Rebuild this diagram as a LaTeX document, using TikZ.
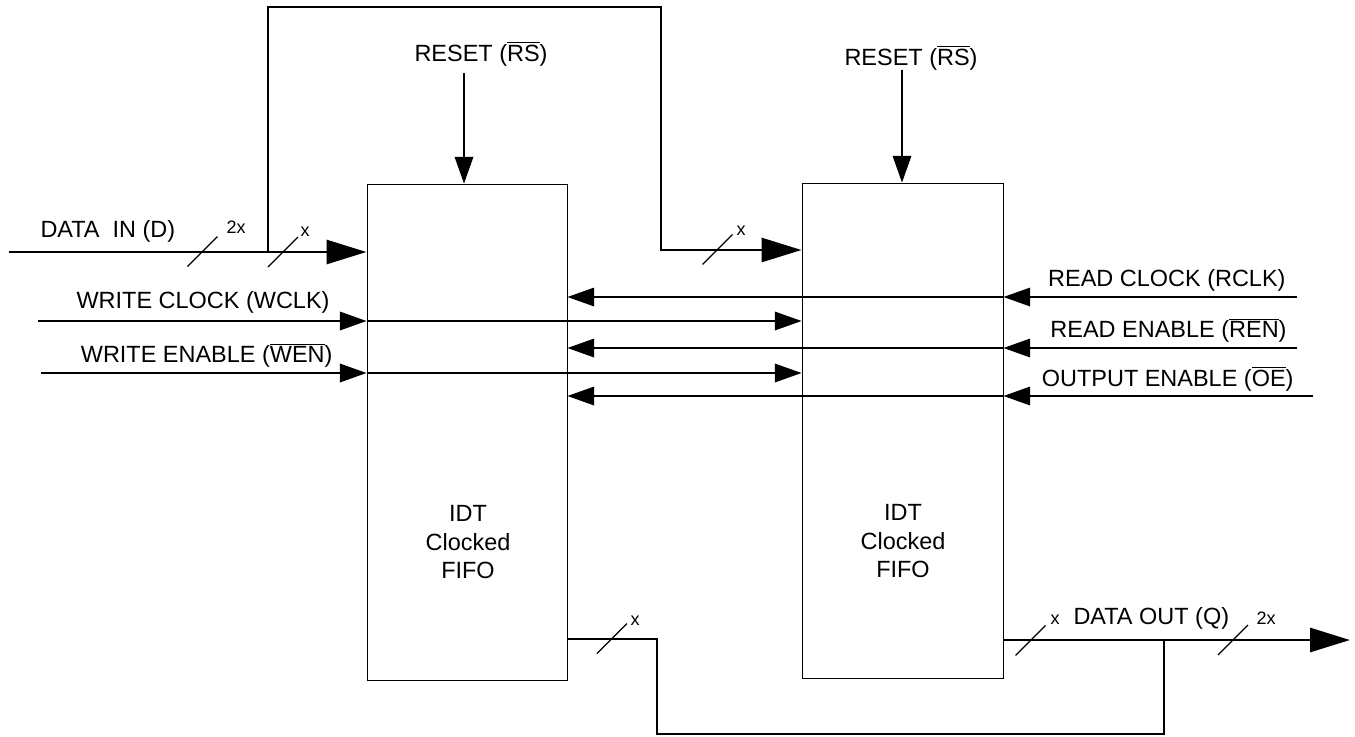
\documentclass[tikz,border=0pt]{standalone}
\usepackage{fontspec}
\setmainfont{Liberation Sans}
\usetikzlibrary{arrows.meta}
\newcommand{\ovl}[1]{$\overline{\mbox{#1}}$}

\tikzset{every picture/.style={line width=0.75pt}}
\tikzset{
  fifo/.style={draw, line width=0.75pt, inner sep=0pt},
  sig/.style={line width=0.9pt, -{Triangle[length=20pt,width=14pt]}},
  bus/.style={line width=2.2pt},
  busarrow/.style={bus, -{Triangle[length=30pt,width=18pt]}},
  slash/.style={line width=0.9pt},
  lbl/.style={inner sep=0pt, font=\fontsize{17.6}{21.5}\selectfont},
  buslbl/.style={inner sep=0pt, font=\fontsize{13.5}{16}\selectfont},
  ctr/.style={lbl, align=center},
}

\begin{document}
\begin{tikzpicture}[x=0.75pt,y=0.75pt,yscale=-1,xscale=1]
\useasboundingbox (0,0) rectangle (1355,736);

%Shape: FIFO boxes
\node[fifo, minimum width=150pt, minimum height=372pt] (fifoL) at (467,432) {};
\node[fifo, minimum width=150.75pt, minimum height=371.25pt] (fifoR) at (902.5,430.5) {};
% Text Node
\node[ctr, anchor=north] (idtL) at (468,505) {IDT\\Clocked\\FIFO};
% Text Node
\node[ctr, anchor=north] (idtR) at (903,504) {IDT\\Clocked\\FIFO};

%Free ends
\coordinate (dinIn) at (9,252);
\coordinate (dinSplit) at (268,252);
\coordinate (loopTop) at (661,7);
\coordinate (dinR) at (661,250);
\coordinate (wclkIn) at (38,321);
\coordinate (wenIn) at (41,373);
\coordinate (rclkIn) at (1297,297);
\coordinate (renIn) at (1297,348);
\coordinate (oeIn) at (1313,396);
\coordinate (rsL) at (464,73);
\coordinate (rsR) at (902,70);
\coordinate (qL) at (657,639);
\coordinate (qLoop) at (1164,734);
\coordinate (qOut) at (1350,640);

%Straight Lines: data in
\draw[busarrow] (dinIn) -- (dinIn -| fifoL.west);
\draw[busarrow] (dinSplit) |- (loopTop) -- (dinR) -- (dinR -| fifoR.west);

%Straight Lines: write side
\foreach \s in {wclkIn, wenIn} {
  \draw[sig] (\s) -- (\s -| fifoL.west);
  \draw[sig] (\s -| fifoL.west) -- (\s -| fifoR.west);
}
%Straight Lines: read side
\foreach \s in {rclkIn, renIn, oeIn} {
  \draw[sig] (\s) -- (\s -| fifoR.east);
  \draw[sig] (\s -| fifoR.east) -- (\s -| fifoL.east);
}

%Straight Lines: reset
\draw[sig] (rsL) -- (rsL |- fifoL.north);
\draw[sig] (rsR) -- (rsR |- fifoR.north);

%Straight Lines: data out
\draw[bus] (fifoL.east |- qL) -- (qL) |- (qLoop) -- (qLoop |- qOut);
\draw[busarrow] (fifoR.east |- qOut) -- (qOut);

%Bus width marks
\foreach \x/\y in {202.5/251.5, 283/252, 717.5/249.5, 612/638.5, 1030.5/640.5, 1233/640}
  \draw[slash] (\x,\y) ++(-15,15) -- ++(30,-30);

% Text Node
\node[lbl, anchor=base west] (dinLbl) at (40,237) {DATA\ \ IN (D)};
% Text Node
\node[buslbl, anchor=base west] (din2x) at (226,233) {2x};
% Text Node
\node[buslbl, anchor=base west] (dinx) at (300,236) {x};
% Text Node
\node[buslbl, anchor=base west] (loopx) at (736,235) {x};
% Text Node
\node[lbl, anchor=base east] (wclkLbl) at (330,308) {WRITE CLOCK (WCLK)};
% Text Node
\node[lbl, anchor=base east] (wenLbl) at (333,362) {WRITE ENABLE (\ovl{WEN})};
% Text Node
\node[lbl, anchor=base east] (rclkLbl) at (1286,286) {READ CLOCK (RCLK)};
% Text Node
\node[lbl, anchor=base east] (renLbl) at (1287,337) {READ ENABLE (\ovl{REN})};
% Text Node
\node[lbl, anchor=base east] (oeLbl) at (1294,386) {OUTPUT ENABLE (\ovl{OE})};
% Text Node
\node[lbl, anchor=base] (rsLblL) at (481,61) {RESET (\ovl{RS})};
% Text Node
\node[lbl, anchor=base] (rsLblR) at (911,65) {RESET (\ovl{RS})};
% Text Node
\node[buslbl, anchor=base west] (qxL) at (630,625) {x};
% Text Node
\node[buslbl, anchor=base west] (qxR) at (1050,624) {x};
% Text Node
\node[lbl, anchor=base west] (doutLbl) at (1073,624) {DATA OUT (Q)};
% Text Node
\node[buslbl, anchor=base west] (dout2x) at (1256,624) {2x};

\end{tikzpicture}
\end{document}
